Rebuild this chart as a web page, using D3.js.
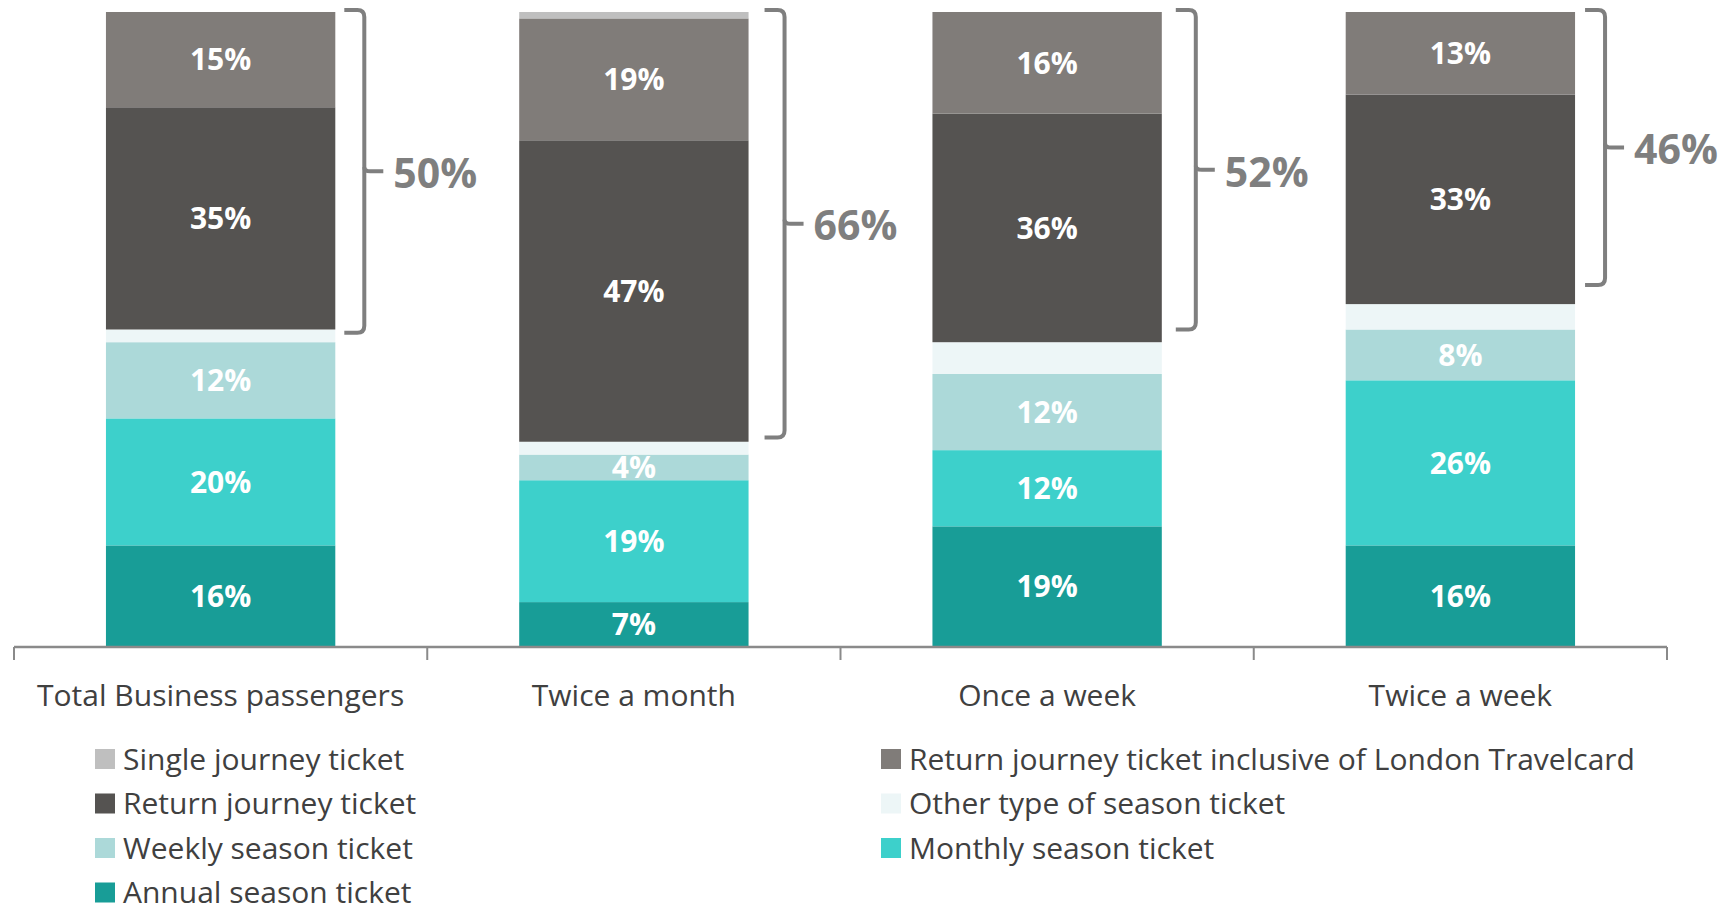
<!DOCTYPE html>
<html><head><meta charset="utf-8">
<script src="https://cdn.jsdelivr.net/npm/d3@7"></script>
<style>
html,body{margin:0;padding:0;background:#fff;}
svg{display:block;}
</style></head>
<body>
<svg id="chart" width="1735" height="911"></svg>
<script>
// ---- data ----
const categories = ["Total Business passengers", "Twice a month", "Once a week", "Twice a week"];
const seriesNames = ["Single journey ticket", "Return journey ticket inclusive of London Travelcard", "Return journey ticket", "Other type of season ticket", "Weekly season ticket", "Monthly season ticket", "Annual season ticket"];
const singleJourney   = [0, 1, 0, 0];
const returnTravelcard = [15, 19, 16, 13];
const returnJourney   = [35, 47, 36, 33];
const otherSeason     = [2, 2, 5, 4];
const weeklySeason    = [12, 4, 12, 8];
const monthlySeason   = [20, 19, 12, 26];
const annualSeason    = [16, 7, 19, 16];
const labelled        = [false, true, true, false, true, true, true];
const bracketLabels   = ["50%", "66%", "52%", "46%"];
const bracketSpan     = [50.5, 67, 50, 43];
const colors = ["#bfbfbf", "#807c79", "#555351", "#edf6f7", "#acd9d9", "#3dd0cb", "#189d97"];

// ---- build table ----
const seriesValues = [singleJourney, returnTravelcard, returnJourney, otherSeason, weeklySeason, monthlySeason, annualSeason];
const table = categories.map((c, i) => {
  const row = {cat: c};
  seriesNames.forEach((s, k) => row[s] = seriesValues[k][i]);
  return row;
});
const stackKeys = seriesNames.slice().reverse();
const stacked = d3.stack().keys(stackKeys).offset(d3.stackOffsetExpand)(table);

const svg = d3.select("#chart");
const FONT = "'Open Sans', 'Noto Sans', sans-serif";

const x = d3.scaleBand().domain(categories).range([14, 1667]).padding(0);
const barW = x.bandwidth() * 0.555;
const y = d3.scaleLinear().domain([0, 1]).range([647, 12]);
const color = d3.scaleOrdinal().domain(seriesNames).range(colors);

const g = svg.append("g");
stacked.forEach(layer => {
  const k = seriesNames.indexOf(layer.key);
  const grp = g.append("g");
  grp.selectAll("rect").data(layer).join("rect")
    .attr("x", d => x(d.data.cat) + (x.bandwidth() - barW) / 2)
    .attr("width", barW)
    .attr("y", d => y(d[1]))
    .attr("height", d => Math.max(0, y(d[0]) - y(d[1])))
    .attr("fill", color(layer.key));
  if (labelled[k]) {
    grp.selectAll("text").data(layer).join("text")
      .attr("x", d => x(d.data.cat) + x.bandwidth() / 2)
      .attr("y", d => (y(d[0]) + y(d[1])) / 2)
      .attr("dy", "0.36em")
      .attr("text-anchor", "middle")
      .attr("fill", "#fff")
      .attr("font-family", FONT)
      .attr("font-weight", 700)
      .attr("font-size", 30)
      .text(d => d.data[layer.key] + "%");
  }
});

// axis
const axis = d3.axisBottom(x).tickSize(0).tickFormat("");
const ax = svg.append("g").attr("transform", "translate(0,647)").call(axis);
ax.select(".domain").remove();
ax.append("line").attr("x1", 14).attr("x2", 1667).attr("y1", 0).attr("y2", 0)
  .attr("stroke", "#8a8a8a").attr("stroke-width", 2.5);
const boundaries = categories.map(c => x(c)).concat([x(categories[categories.length - 1]) + x.bandwidth()]);
ax.selectAll("line.tk").data(boundaries).join("line").attr("class", "tk")
  .attr("x1", d => d).attr("x2", d => d).attr("y1", 0).attr("y2", 13)
  .attr("stroke", "#8a8a8a").attr("stroke-width", 2);
svg.append("g").selectAll("text").data(categories).join("text")
  .attr("x", d => x(d) + x.bandwidth() / 2)
  .attr("y", 706)
  .attr("text-anchor", "middle")
  .attr("fill", "#404040")
  .attr("font-family", FONT)
  .attr("font-size", 30)
  .text(d => d);

// brackets
const bracketGap = [29, 36, 34, 30];
const bg = svg.append("g");
categories.forEach((c, i) => {
  const right = x(c) + (x.bandwidth() + barW) / 2;
  const vx = right + bracketGap[i], top = y(1) - 2, bot = y(1 - bracketSpan[i] / 100);
  const mid = (top + bot) / 2, r = 7;
  bg.append("path")
    .attr("d", `M${vx - 20},${top} L${vx - r},${top} Q${vx},${top} ${vx},${top + r} L${vx},${bot - r} Q${vx},${bot} ${vx - r},${bot} L${vx - 20},${bot}`)
    .attr("fill", "none").attr("stroke", "#7f7f7f").attr("stroke-width", 4);
  bg.append("path")
    .attr("d", `M${vx},${mid - 4} Q${vx},${mid} ${vx + 6},${mid} L${vx + 19},${mid}`)
    .attr("fill", "none").attr("stroke", "#7f7f7f").attr("stroke-width", 4);
  bg.append("text")
    .attr("x", vx + 29).attr("y", mid + 2).attr("dy", "0.36em")
    .attr("fill", "#7f7f7f").attr("font-family", FONT).attr("font-weight", 700)
    .attr("font-size", 41).text(bracketLabels[i]);
});

// legend (row-major, 2 columns)
const lg = svg.append("g");
seriesNames.forEach((s, k) => {
  const col = k % 2, row = Math.floor(k / 2);
  const lx = col === 0 ? 95 : 881, ly = 759 + row * 44.5;
  lg.append("rect").attr("x", lx).attr("y", ly - 10).attr("width", 20).attr("height", 20).attr("fill", color(s));
  lg.append("text").attr("x", lx + 28).attr("y", ly).attr("dy", "0.36em")
    .attr("fill", "#404040").attr("font-family", FONT).attr("font-size", 30).text(s);
});
</script>
</body></html>
